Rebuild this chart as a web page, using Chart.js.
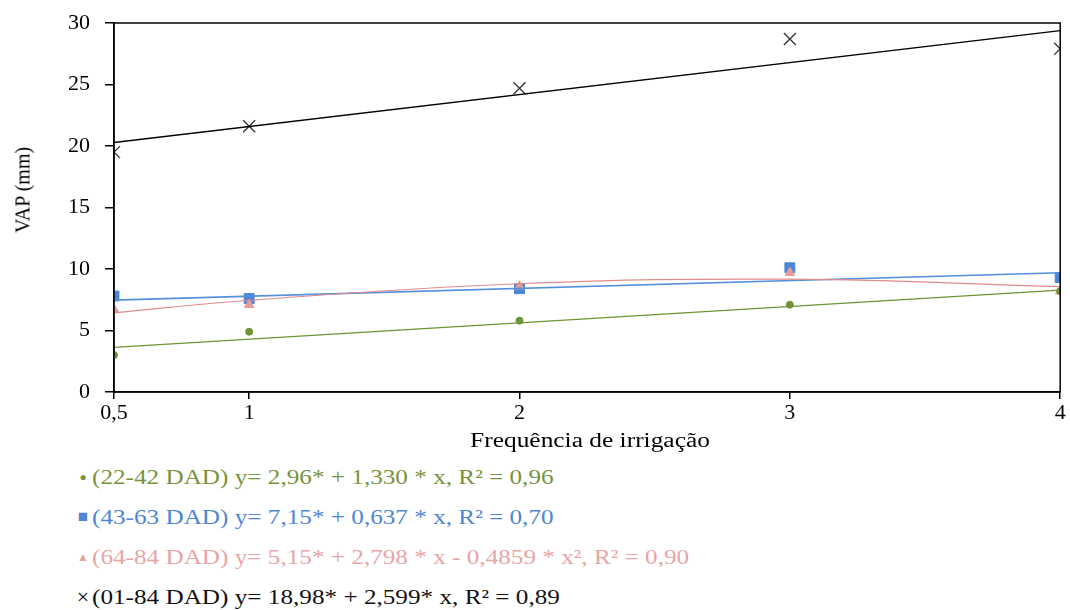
<!DOCTYPE html>
<html>
<head>
<meta charset="utf-8">
<script src="https://cdn.jsdelivr.net/npm/chart.js@4.4.0/dist/chart.umd.min.js"></script>
<style>
  body { margin: 0; background: #fff; }
  #wrap { position: relative; width: 1070px; height: 455px; }
  #xtitle { position: absolute; left: 590px; top: 440px; font-family: "Liberation Serif", serif; font-size: 20px;
            color: #000; white-space: nowrap; transform: translate(-50%, -50%) scaleX(1.27); }
  #ytitle { position: absolute; left: 23px; top: 190px; font-family: "Liberation Serif", serif; font-size: 20px;
            color: #000; white-space: nowrap; transform: translate(-50%, -50%) rotate(-90deg); }
  #legend { font-family: "Liberation Serif", serif; font-size: 22px; padding-top: 2px; }
  #legend div { position: relative; height: 40px; line-height: 40px; white-space: nowrap; }
  .mk { position: absolute; left: 76px; width: 14px; text-align: center; }
  .tx { position: absolute; left: 92px; display: inline-block; transform: scaleX(1.145); transform-origin: left center; }
</style>
</head>
<body>
<div id="wrap">
  <canvas id="chart" width="1070" height="455"></canvas>
  <div id="xtitle">Frequência de irrigação</div>
  <div id="ytitle">VAP (mm)</div>
</div>
<div id="legend">
  <div style="color:#77933c"><span class="mk" style="font-size:12px">&#9679;</span><span class="tx">(22-42 DAD) y= 2,96* + 1,330 * x, R² = 0,96</span></div>
  <div style="color:#4f86d4"><span class="mk" style="font-size:17px">&#9632;</span><span class="tx">(43-63 DAD) y= 7,15* + 0,637 * x, R² = 0,70</span></div>
  <div style="color:#e8a5a5"><span class="mk" style="font-size:12px">&#9650;</span><span class="tx">(64-84 DAD) y= 5,15* + 2,798 * x  - 0,4859 * x², R² = 0,90</span></div>
  <div style="color:#111"><span class="mk">&times;</span><span class="tx">(01-84 DAD) y= 18,98* + 2,599* x, R² = 0,89</span></div>
</div>
<script>
const freq = [0.5, 1, 2, 3, 4]
const tickLabels = ["0,5", "1", "2", "3", "4"]

// observed values
const vap22_42 = [3.0, 4.9, 5.8, 7.1, 8.2]
const vap43_63 = [7.8, 7.6, 8.4, 10.1, 9.3]
const vap64_84 = [6.7, 7.1, 8.6, 9.7, 8.2]
const vap01_84 = [19.5, 21.6, 24.7, 28.7, 27.9]

// trend lines (read at the ends / at each x)
const trendX = [0.5, 4]
const trend22_42 = [3.63, 8.28]
const trend43_63 = [7.47, 9.70]
const trend64_84 = [6.43, 7.46, 8.80, 9.17, 8.57]
const trend01_84 = [20.28, 29.38]

const toPts = (xs, ys) => xs.map((x, i) => ({ x: x, y: ys[i] }))

const frame = {
    id: "frame",
    afterDatasetsDraw(chart) {
        const a = chart.chartArea
        const ctx = chart.ctx
        ctx.save()
        ctx.strokeStyle = "#000"
        ctx.lineWidth = 1.5
        ctx.strokeRect(a.left, a.top, a.right - a.left, a.bottom - a.top)
        ctx.restore()
    }
}

function scatter(label, data, color, style, radius, bw) {
    return {
        type: "scatter",
        label: label,
        data: data,
        pointStyle: style,
        pointRadius: radius,
        pointBackgroundColor: color,
        pointBorderColor: color,
        pointBorderWidth: bw,
        showLine: false
    }
}

function trend(data, color, width, tension) {
    return {
        type: "line",
        data: data,
        borderColor: color,
        borderWidth: width,
        pointRadius: 0,
        tension: tension,
        fill: false
    }
}

const serif = "'Liberation Serif', serif"

new Chart(document.getElementById("chart"), {
    type: "scatter",
    data: {
        datasets: [
            trend(toPts(trendX, trend01_84), "#000", 1.5, 0),
            trend(toPts(freq, trend64_84), "#e08c8c", 1.2, 0.4),
            trend(toPts(trendX, trend43_63), "#5590dc", 1.6, 0),
            trend(toPts(trendX, trend22_42), "#6e9433", 1.3, 0),
            scatter("22-42", toPts(freq, vap22_42), "#6e9433", "circle", 3.5, 1),
            scatter("64-84", toPts(freq, vap64_84), "#e69c9c", "triangle", 5.5, 1),
            scatter("43-63", toPts(freq, vap43_63), "#4a86d6", "rect", 7, 1),
            scatter("01-84", toPts(freq, vap01_84), "#333", "crossRot", 8.5, 1.3)
        ]
    },
    options: {
        responsive: false,
        animation: false,
        devicePixelRatio: 1,
        layout: { padding: { top: 23, right: 7, left: 0, bottom: 0 } },
        plugins: { legend: { display: false }, tooltip: { enabled: false } },
        scales: {
            x: {
                type: "linear",
                min: 0.5,
                max: 4,
                afterBuildTicks: s => { s.ticks = freq.map(v => ({ value: v })) },
                afterFit: s => { s.height = 63; s.paddingLeft = 0; s.paddingRight = 0 },
                ticks: {
                    callback: (v) => tickLabels[freq.indexOf(v)],
                    font: { family: serif, size: 22 },
                    color: "#000",
                    padding: 1,
                    maxRotation: 0,
                    autoSkip: false
                },
                grid: { drawOnChartArea: false, drawTicks: true, tickLength: 7, color: "#000", lineWidth: 1.5 },
                border: { color: "#000", width: 1.5 }
            },
            y: {
                min: 0,
                max: 30,
                afterFit: s => { s.width = 114; s.paddingTop = 0; s.paddingBottom = 0 },
                ticks: {
                    stepSize: 5,
                    font: { family: serif, size: 22 },
                    color: "#000",
                    padding: 15
                },
                grid: { drawOnChartArea: false, drawTicks: true, tickLength: 9, color: "#000", lineWidth: 1.5 },
                border: { color: "#000", width: 1.5 }
            }
        }
    },
    plugins: [frame]
})
</script>
</body>
</html>
